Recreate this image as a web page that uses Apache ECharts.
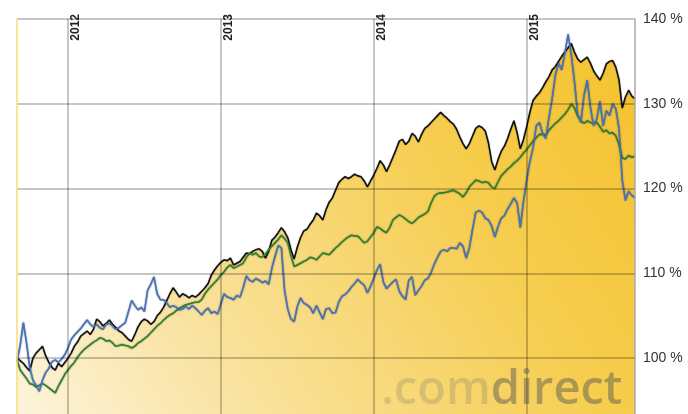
<!DOCTYPE html>
<html><head><meta charset="utf-8">
<script src="https://cdn.jsdelivr.net/npm/echarts@6/dist/echarts.min.js"></script>
<style>html,body{margin:0;padding:0;background:#fff}#c{width:688px;height:414px}</style>
</head><body><div id="c"></div>
<script>
const dates = [
'2011-09-01','2011-09-08','2011-09-15','2011-09-22','2011-10-01','2011-10-08','2011-10-15','2011-10-22',
'2011-11-01','2011-11-08','2011-11-15','2011-11-22','2011-12-01','2011-12-08','2011-12-15','2011-12-22',
'2012-01-01','2012-01-08','2012-01-15','2012-01-22','2012-02-01','2012-02-08','2012-02-15','2012-02-22',
'2012-03-01','2012-03-08','2012-03-15','2012-03-22','2012-04-01','2012-04-08','2012-04-15','2012-04-22',
'2012-05-01','2012-05-08','2012-05-15','2012-05-22','2012-06-01','2012-06-08','2012-06-15','2012-06-22',
'2012-07-01','2012-07-08','2012-07-15','2012-07-22','2012-08-01','2012-08-08','2012-08-15','2012-08-22',
'2012-09-01','2012-09-08','2012-09-15','2012-09-22','2012-10-01','2012-10-08','2012-10-15','2012-10-22',
'2012-11-01','2012-11-08','2012-11-15','2012-11-22','2012-12-01','2012-12-08','2012-12-15','2012-12-22',
'2013-01-01','2013-01-08','2013-01-15','2013-01-22','2013-02-01','2013-02-08','2013-02-15','2013-02-22',
'2013-03-01','2013-03-08','2013-03-15','2013-03-22','2013-04-01','2013-04-08','2013-04-15','2013-04-22',
'2013-05-01','2013-05-08','2013-05-15','2013-05-22','2013-06-01','2013-06-08','2013-06-15','2013-06-22',
'2013-07-01','2013-07-08','2013-07-15','2013-07-22','2013-08-01','2013-08-08','2013-08-15','2013-08-22',
'2013-09-01','2013-09-08','2013-09-15','2013-09-22','2013-10-01','2013-10-08','2013-10-15','2013-10-22',
'2013-11-01','2013-11-08','2013-11-15','2013-11-22','2013-12-01','2013-12-08','2013-12-15','2013-12-22',
'2014-01-01','2014-01-08','2014-01-15','2014-01-22','2014-02-01','2014-02-08','2014-02-15','2014-02-22',
'2014-03-01','2014-03-08','2014-03-15','2014-03-22','2014-04-01','2014-04-08','2014-04-15','2014-04-22',
'2014-05-01','2014-05-08','2014-05-15','2014-05-22','2014-06-01','2014-06-08','2014-06-15','2014-06-22',
'2014-07-01','2014-07-08','2014-07-15','2014-07-22','2014-08-01','2014-08-08','2014-08-15','2014-08-22',
'2014-09-01','2014-09-08','2014-09-15','2014-09-22','2014-10-01','2014-10-08','2014-10-15','2014-10-22',
'2014-11-01','2014-11-08','2014-11-15','2014-11-22','2014-12-01','2014-12-08','2014-12-15','2014-12-22',
'2015-01-01','2015-01-08','2015-01-15','2015-01-22','2015-02-01','2015-02-08','2015-02-15','2015-02-22',
'2015-03-01','2015-03-08','2015-03-15','2015-03-22','2015-04-01','2015-04-08','2015-04-15','2015-04-22',
'2015-05-01','2015-05-08','2015-05-15','2015-05-22','2015-06-01','2015-06-08','2015-06-15','2015-06-22',
'2015-07-01','2015-07-08','2015-07-15','2015-07-22','2015-08-01','2015-08-08','2015-08-15','2015-08-22',
'2015-09-01','2015-09-08','2015-09-15'
];
const blackSeries = [
100.0, 99.7, 99.4, 98.9, 98.5, 100.0, 100.6, 101.0, 101.4, 100.3, 99.5, 98.9, 98.6, 99.4, 99.0, 99.5,
100.0, 100.6, 101.4, 101.9, 102.6, 102.9, 103.2, 102.8, 103.4, 104.6, 104.3, 103.8, 104.1, 104.5, 104.0, 103.6,
103.2, 103.0, 102.6, 102.2, 102.0, 102.8, 103.7, 104.3, 104.6, 104.4, 104.0, 104.3, 105.0, 105.4, 106.0, 106.8,
107.6, 108.3, 107.8, 107.2, 107.6, 107.4, 107.1, 107.4, 107.2, 107.5, 107.9, 108.3, 108.8, 109.8, 110.4, 110.9,
111.3, 111.6, 111.5, 111.8, 111.0, 111.2, 111.4, 111.9, 112.4, 112.3, 112.6, 112.8, 112.9, 112.6, 111.8, 112.6,
113.9, 114.3, 114.8, 115.4, 114.9, 114.2, 112.8, 111.7, 113.1, 114.2, 115.0, 115.2, 115.8, 116.3, 117.1, 116.8,
116.3, 117.5, 118.4, 118.9, 119.8, 120.7, 121.1, 121.4, 121.2, 121.4, 121.7, 121.5, 121.4, 120.9, 120.2, 120.9,
121.6, 122.4, 123.3, 122.8, 122.0, 122.8, 123.7, 124.6, 125.6, 125.8, 125.2, 125.6, 126.5, 126.2, 125.5, 126.4,
127.1, 127.4, 127.8, 128.2, 128.6, 129.0, 128.6, 128.3, 127.9, 127.6, 127.0, 126.1, 125.3, 124.7, 125.3, 126.2,
127.1, 127.4, 127.2, 126.8, 125.4, 123.2, 122.2, 123.4, 124.4, 125.0, 125.9, 127.0, 128.0, 126.6, 124.7, 125.8,
127.3, 129.0, 130.4, 130.9, 131.3, 131.9, 132.6, 133.2, 134.0, 134.4, 135.0, 135.6, 136.1, 136.6, 137.1, 136.1,
135.3, 134.9, 135.2, 135.5, 134.8, 133.9, 133.3, 132.8, 133.6, 134.7, 135.0, 135.1, 134.3, 132.8, 129.5, 130.8,
131.6, 130.9, 130.6
];
const greenSeries = [
99.8, 98.6, 98.1, 97.6, 97.0, 96.9, 96.6, 96.8, 97.0, 96.8, 96.5, 96.2, 95.9, 96.7, 97.4, 98.1,
98.6, 99.1, 99.5, 100.1, 100.6, 101.0, 101.3, 101.6, 101.9, 102.1, 102.4, 102.3, 102.0, 102.1, 101.8, 101.4,
101.5, 101.6, 101.5, 101.4, 101.2, 101.4, 101.8, 102.0, 102.3, 102.6, 103.0, 103.4, 103.8, 104.1, 104.5, 104.8,
105.1, 105.3, 105.6, 105.9, 106.1, 106.3, 106.4, 106.5, 106.6, 106.6, 106.9, 107.6, 108.1, 108.5, 108.9, 109.3,
109.8, 110.2, 110.7, 111.0, 110.6, 110.8, 111.0, 111.2, 111.9, 112.4, 112.2, 112.4, 112.0, 111.9, 112.3, 112.8,
113.2, 113.6, 114.0, 114.5, 114.1, 113.6, 112.1, 110.8, 111.0, 111.2, 111.4, 111.6, 111.9, 111.8, 111.6, 112.0,
112.4, 112.3, 112.2, 112.6, 113.0, 113.3, 113.7, 114.0, 114.3, 114.5, 114.4, 114.4, 114.0, 113.6, 113.8, 114.3,
114.8, 115.5, 115.3, 115.0, 114.8, 115.4, 116.3, 116.6, 116.9, 116.7, 116.4, 116.1, 115.9, 116.2, 116.6, 116.8,
117.0, 117.3, 118.3, 119.1, 119.4, 119.5, 119.5, 119.6, 119.7, 119.8, 119.6, 119.4, 119.0, 119.5, 120.2, 120.6,
121.0, 120.9, 120.7, 120.8, 120.7, 120.2, 120.0, 120.8, 121.5, 121.9, 122.3, 122.6, 123.0, 123.3, 123.7, 124.2,
124.6, 125.1, 125.6, 126.0, 126.4, 126.4, 126.3, 126.9, 127.3, 127.7, 128.0, 128.4, 128.8, 129.3, 130.0, 129.5,
128.6, 128.0, 127.7, 128.0, 127.8, 127.7, 127.8, 127.3, 126.7, 126.9, 126.5, 126.6, 126.2, 125.2, 123.6, 123.5,
123.9, 123.7, 123.8
];
const blueSeries = [
99.6, 101.5, 104.2, 101.8, 98.9, 97.4, 96.8, 96.1, 97.4, 98.3, 98.8, 99.6, 99.8, 99.5, 99.9, 100.4,
101.2, 102.2, 102.7, 103.1, 103.5, 104.0, 104.5, 104.0, 103.7, 104.0, 103.6, 103.4, 104.0, 104.1, 103.8, 103.4,
103.6, 103.9, 104.2, 105.5, 106.8, 106.2, 105.7, 106.0, 105.5, 108.0, 108.7, 109.6, 107.6, 106.9, 106.9, 106.5,
106.0, 106.2, 106.0, 105.7, 105.8, 106.1, 105.8, 106.2, 105.9, 105.5, 105.1, 105.6, 105.9, 105.3, 105.5, 105.2,
106.4, 107.6, 107.2, 107.1, 106.9, 107.4, 107.2, 108.3, 109.7, 109.2, 109.0, 109.4, 109.2, 108.9, 109.1, 108.7,
110.6, 112.0, 113.3, 113.0, 108.0, 105.8, 104.6, 104.3, 106.1, 107.1, 106.5, 106.3, 106.0, 105.3, 106.2, 105.4,
104.6, 105.8, 105.9, 105.3, 105.4, 106.6, 107.3, 107.5, 107.9, 108.4, 108.8, 109.3, 108.9, 108.6, 107.7, 108.5,
109.4, 110.4, 111.1, 109.0, 108.2, 108.6, 109.0, 109.3, 107.9, 107.3, 106.9, 109.2, 109.6, 107.4, 108.0, 108.5,
109.2, 109.4, 110.1, 111.1, 111.9, 112.6, 112.8, 112.6, 113.0, 113.0, 112.9, 113.6, 113.2, 111.8, 113.0, 115.2,
117.2, 117.4, 117.2, 116.5, 116.3, 115.6, 114.3, 115.5, 116.5, 116.8, 117.6, 118.2, 118.9, 118.3, 115.4, 118.5,
121.0, 123.2, 124.8, 127.4, 127.8, 126.5, 125.9, 128.4, 130.6, 133.4, 134.8, 134.0, 136.0, 138.2, 135.8, 132.6,
128.8, 127.8, 131.0, 132.8, 129.6, 127.4, 128.2, 130.3, 127.4, 129.2, 128.6, 130.0, 129.4, 127.0, 121.0, 118.6,
119.7, 119.2, 118.9
];
const isYearStart = (i, v) => String(v).endsWith('-01-01');

const chart = echarts.init(document.getElementById('c'), null, {renderer: 'canvas'});
chart.setOption({
  animation: false,
  backgroundColor: '#ffffff',
  grid: {left: 17, right: 53, top: 19, bottom: -29, containLabel: false, outerBoundsMode: 'none'},
  xAxis: {
    type: 'category', data: dates, boundaryGap: false, position: 'top', z: 5,
    axisLine: {show: false}, axisTick: {show: false},
    splitLine: {show: true, interval: isYearStart, lineStyle: {color: 'rgba(0,0,0,0.3)', width: 1.5}},
    axisLabel: {
      show: true, inside: true, interval: isYearStart, rotate: -90,
      formatter: v => v.slice(0, 4),
      fontSize: 12, fontWeight: 'bold', color: '#222', fontFamily: 'Liberation Sans, Arial',
      margin: -5, align: 'right', verticalAlign: 'top', padding: [2, 0, 0, 0]
    }
  },
  yAxis: [{
    type: 'value', position: 'right', min: 90, max: 140, interval: 10, z: 5,
    axisLine: {show: true, lineStyle: {color: '#aaaaaa', width: 1.5}},
    axisTick: {show: false},
    axisLabel: {formatter: v => v + ' %', color: '#333', fontSize: 14, fontFamily: 'Liberation Sans, Arial', margin: 8, showMinLabel: false},
    splitLine: {show: true, lineStyle: {color: 'rgba(0,0,0,0.3)', width: 1.5}}
  }, {
    type: 'value', position: 'left', min: 90, max: 140, interval: 10, z: 5,
    axisLine: {show: true, lineStyle: {color: '#f2df73', width: 1.5}},
    axisTick: {show: false}, axisLabel: {show: false}, splitLine: {show: false}
  }],
  graphic: [{
    type: 'text', left: 381, top: 367, z: 10, silent: true,
    style: {
      text: '{a|.com}{b|direct}',
      rich: {
        a: {font: '600 47px "Open Sans"', fill: 'rgba(100,100,100,0.22)'},
        b: {font: '600 47px "Open Sans"', fill: 'rgba(80,80,80,0.45)'}
      }
    }
  }],
  series: [{
    type: 'line', data: blackSeries, yAxisIndex: 0, showSymbol: false, z: 2,
    lineStyle: {color: '#111111', width: 1.6, shadowColor: 'rgba(0,0,0,0.35)', shadowBlur: 1.5},
    areaStyle: {opacity: 1, color: new echarts.graphic.LinearGradient(0, 1, 1, 0, [
      {offset: 0, color: '#fdf5e0'}, {offset: 0.35, color: '#f9df92'}, {offset: 0.7, color: '#f6cd4e'}, {offset: 1, color: '#f4c22e'}
    ])}
  }, {
    type: 'line', data: greenSeries, yAxisIndex: 0, showSymbol: false, z: 3,
    lineStyle: {color: '#2f8233', width: 1.6, shadowColor: 'rgba(0,30,0,0.55)', shadowBlur: 1.5}
  }, {
    type: 'line', data: blueSeries, yAxisIndex: 0, showSymbol: false, z: 4,
    lineStyle: {color: '#4474bd', width: 1.6, shadowColor: 'rgba(0,0,40,0.55)', shadowBlur: 1.5}
  }]
});
</script></body></html>
